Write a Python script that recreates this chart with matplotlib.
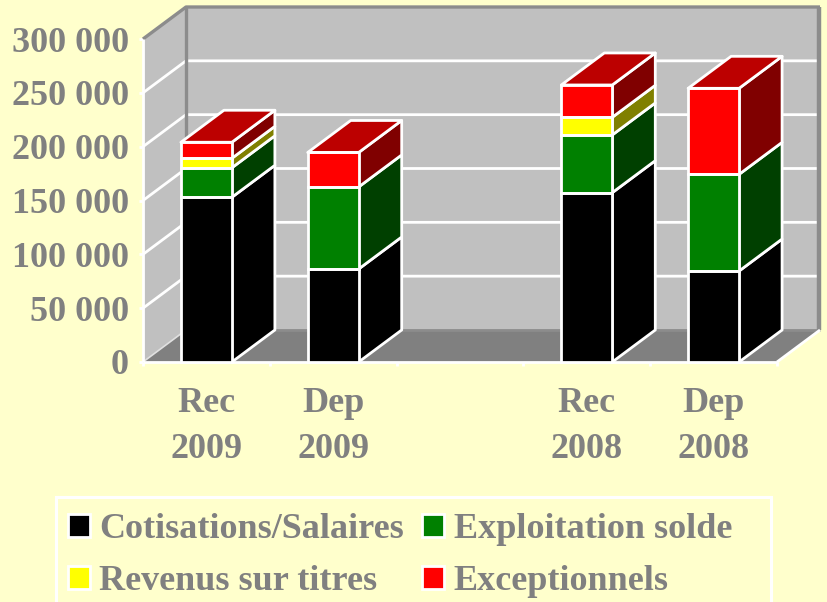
import numpy as np
import matplotlib
matplotlib.use("Agg")
import matplotlib.pyplot as plt
from matplotlib.patches import Polygon, Patch, Rectangle

# Data
categories = ["Rec\n2009", "Dep\n2009", "", "Rec\n2008", "Dep\n2008"]
cotisations = [153000, 86400, 0, 157300, 84500]
exploitation = [27400, 76200, 0, 53600, 89800]
revenus = [8800, 0, 0, 16400, 0]
exceptionnels = [14900, 32000, 0, 30000, 79900]
yticks = [0, 50000, 100000, 150000, 200000, 250000, 300000]
ylabels = ["0", "50 000", "100 000", "150 000", "200 000", "250 000", "300 000"]

series = [cotisations, exploitation, revenus, exceptionnels]
names = ["Cotisations/Salaires", "Exploitation solde", "Revenus sur titres", "Exceptionnels"]
front_colors = ["#000000", "#008000", "#FFFF00", "#FF0000"]
side_colors = ["#000000", "#004000", "#808000", "#800000"]
top_color = "#BC0000"

# Style
BG = "#FFFFCC"
WALL = "#C0C0C0"
FLOOR = "#808080"
EDGE = "#8C8C8C"
TEXT = "#808080"
W, H = 827, 602
LW = 2.0

plt.rcParams['font.family'] = ['Liberation Serif', 'DejaVu Serif']
plt.rcParams['font.weight'] = 'bold'

fig = plt.figure(figsize=(W / 100, H / 100), dpi=100, facecolor=BG)
# front plane of the 3D box
ax = fig.add_axes([143 / W, 1 - 362 / H, 634 / W, 323 / H])
ax.set_facecolor("none")
ax.set_xlim(-0.5, 4.5)
ax.set_ylim(0, 300000)
for s in ax.spines.values():
    s.set_visible(False)

# depth of the box, in data units
dx = 43 / (634 / 5)
dy = 32 / 323 * 300000
x0, x1 = -0.5, 4.5
ymax = 300000


def poly(points, **kw):
    p = Polygon(points, closed=True, clip_on=False, **kw)
    ax.add_patch(p)
    return p


def line(xs, ys, color, lw, z):
    ax.plot(xs, ys, color=color, lw=lw, clip_on=False, zorder=z, solid_capstyle='butt')


# walls and floor
poly([(x0 + dx, dy), (x1 + dx, dy), (x1 + dx, ymax + dy), (x0 + dx, ymax + dy)], fc=WALL, ec="none", zorder=1)
poly([(x0, 0), (x0 + dx, dy), (x0 + dx, ymax + dy), (x0, ymax)], fc=WALL, ec="none", zorder=1)
poly([(x0, 0), (x1, 0), (x1 + dx, dy), (x0 + dx, dy)], fc=FLOOR, ec="none", zorder=1)

# gridlines on both walls
for v in yticks[1:-1]:
    line([x0, x0 + dx, x1 + dx], [v, v + dy, v + dy], "white", LW, 2)

# box edges
line([x0 + dx, x0 + dx], [dy, ymax + dy], EDGE, 2.4, 3)
line([x0, x0 + dx, x1 + dx], [ymax, ymax + dy, ymax + dy], EDGE, 2.4, 3)
line([x1 + dx - 0.01, x1 + dx - 0.01], [dy, ymax + dy], EDGE, 3.2, 3)
line([x0 + dx, x1 + dx], [dy, dy], EDGE, 2.0, 3)
line([x0, x0 + dx], [0, dy], "#E0E0E0", 1.2, 3)
line([x1, x1 + dx], [0, dy], "white", LW, 3)
line([x0, x0], [0, ymax], "white", LW, 3)
line([x0, x1], [0, 0], "white", LW, 3)

# stacked bars
xpos = np.arange(len(categories))
width = 0.402
bottom = np.zeros(len(categories))
for vals, name, fc, sc in zip(series, names, front_colors, side_colors):
    vals = np.array(vals, dtype=float)
    for i in xpos:
        if vals[i] == 0:
            continue
        xr = i + width / 2
        b, t = bottom[i], bottom[i] + vals[i]
        poly([(xr, b), (xr + dx, b + dy), (xr + dx, t + dy), (xr, t)], fc=sc, ec="white", lw=LW, zorder=4, joinstyle='round')
    ax.bar(xpos, vals, width, bottom=bottom, color=fc, edgecolor="none", zorder=5)
    for i in xpos:
        if vals[i] > 0:
            ax.bar(i, vals[i], width, bottom=bottom[i], facecolor="none", edgecolor="white", lw=LW, zorder=6, clip_on=False)
    bottom += vals

# bar tops
for i in xpos:
    if bottom[i] == 0:
        continue
    xl, xr, t = i - width / 2, i + width / 2, bottom[i]
    poly([(xl, t), (xr, t), (xr + dx, t + dy), (xl + dx, t + dy)], fc=top_color, ec="white", lw=LW, zorder=5, joinstyle='round')

# axis ticks and labels
ax.set_yticks(yticks)
ax.set_yticklabels(ylabels, fontsize=26, color=TEXT, fontweight='bold')
ax.tick_params(axis='y', length=3, width=LW, color="white", pad=7)
ax.set_xticks(np.arange(-0.5, 5, 1))
ax.set_xticklabels([])
ax.tick_params(axis='x', which='major', length=3, width=LW, color="white")
ax.set_xticks(xpos, minor=True)
ax.set_xticklabels(categories, minor=True, fontsize=26, color=TEXT, fontweight='bold', linespacing=1.5)
ax.tick_params(axis='x', which='minor', length=0, pad=18)

# legend box runs off the bottom of the figure
fig.add_artist(Rectangle((56 / W, -5 / H), 715 / W, (H - 497 + 5) / H, transform=fig.transFigure,
                         fc="none", ec="white", lw=2.2))
handles = [Patch(facecolor=front_colors[i], edgecolor="white", lw=2.0, label=names[i]) for i in [0, 2, 1, 3]]
leg = fig.legend(handles=handles, ncol=2, loc='upper left', bbox_to_anchor=(67.5 / W, 1 - 513 / H),
                 borderaxespad=0, frameon=False, prop={'size': 26, 'weight': 'bold'}, labelcolor=TEXT,
                 handlelength=0.61, handleheight=0.61, handletextpad=0.27, columnspacing=0.5,
                 labelspacing=0.53, borderpad=0)

fig.savefig("out.png", dpi=100, facecolor=BG)
